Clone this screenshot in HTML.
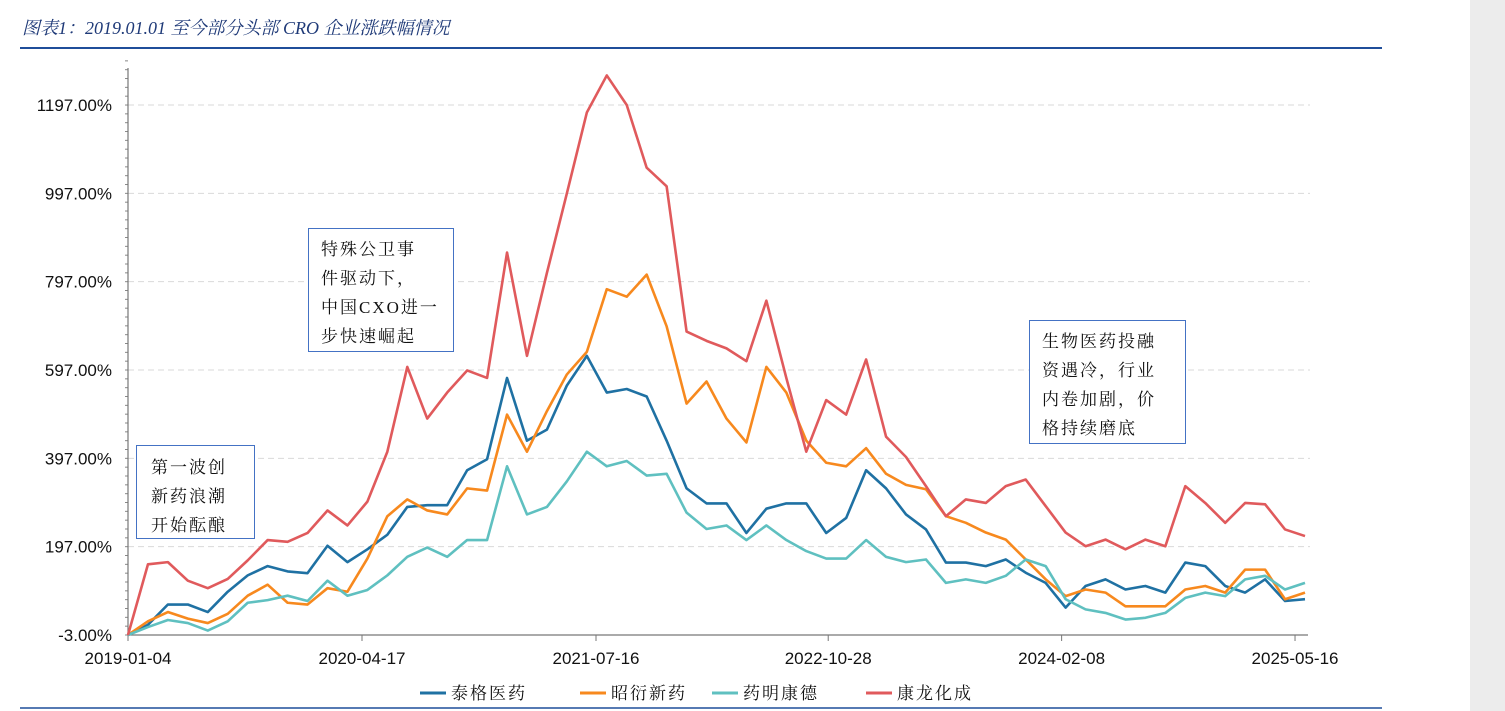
<!DOCTYPE html>
<html><head><meta charset="utf-8">
<style>
body{margin:0;width:1505px;height:711px;background:#fff;overflow:hidden;position:relative;font-family:"Liberation Sans","Noto Sans CJK SC",sans-serif;}
.title{position:absolute;left:22px;top:14px;font-size:18px;font-style:italic;color:#1f3a78;font-family:"Liberation Serif","Noto Serif CJK SC",serif;}
.rule{position:absolute;left:20px;top:47px;width:1362px;height:2px;background:#1f4e9a;}
.strip{position:absolute;left:1470px;top:0;width:35px;height:711px;background:#ececec;}
.box{position:absolute;border:1.5px solid #4472c4;background:#fff;font-family:"Liberation Serif","Noto Serif CJK SC",serif;font-size:17px;line-height:29px;color:#111;box-sizing:border-box;letter-spacing:2px;}
</style></head><body>
<div class="title">图表1：2019.01.01 至今部分头部 CRO 企业涨跌幅情况</div>
<div class="rule"></div>
<div class="strip"></div>
<svg id="chart" width="1505" height="711" style="position:absolute;left:0;top:0"></svg>
<div class="box" style="left:136px;top:445px;width:119px;height:94px;padding:7px 0 0 14px">第一波创<br>新药浪潮<br>开始酝酿</div>
<div class="box" style="left:308px;top:228px;width:146px;height:124px;padding:6px 0 0 12px">特殊公卫事<br>件驱动下，<br>中国CXO进一<br>步快速崛起</div>
<div class="box" style="left:1029px;top:320px;width:157px;height:124px;padding:6px 0 0 12px">生物医药投融<br>资遇冷，行业<br>内卷加剧，价<br>格持续磨底</div>
<script>
const yTicks=[-3,197,397,597,797,997,1197];
const xTickLabels=["2019-01-04","2020-04-17","2021-07-16","2022-10-28","2024-02-08","2025-05-16"];
const xTickIdx=[0,11.73,23.46,35.1,46.8,58.5];
const seriesNames=["泰格医药","昭衍新药","药明康德","康龙化成"];
const taige=[-3,20,66,66,49,95,132,153,141,137,199,162,191,224,287,291,291,370,395,579,437,462,562,629,546,554,537,437,329,295,295,228,283,295,295,228,262,370,329,270,236,161,161,153,168,138,115,59,108,123,100,108,93,161,153,108,93,123,74,78];
const zhaoyan=[-3,28,49,34,24,45,86,111,70,66,103,95,170,266,304,279,270,329,324,496,412,504,587,638,780,763,813,696,521,571,487,433,604,546,437,387,379,420,362,337,327,266,251,229,213,168,123,85,100,93,62,62,62,100,108,93,145,145,78,93];
const wuxi=[-3,15,31,24,7,28,70,76,86,74,120,86,99,132,174,195,174,212,212,379,270,287,345,412,379,391,358,362,274,237,245,212,245,212,187,170,170,212,174,162,168,115,123,115,131,168,153,78,55,47,32,36,47,81,93,85,123,131,100,115];
const kanglong=[-3,157,162,120,103,124,166,212,208,228,279,245,299,412,604,487,546,596,579,863,629,817,997,1180,1264,1197,1055,1013,684,663,646,617,754,579,412,529,496,621,446,400,334,266,304,296,334,349,289,229,198,213,191,213,198,334,296,251,296,293,236,221];
const colors=["#1f71a3","#f7891e","#5fc0c0","#e05a5c"];
const NS="http://www.w3.org/2000/svg";
const svg=document.getElementById("chart");
const X0=128,X1=1305,Y0=635;
const nPts=taige.length;
const x=i=>X0+i*(X1-X0)/(nPts-1);
const y=v=>Y0-(v+3)*88.33/200;
function mk(t,a){const e=document.createElementNS(NS,t);for(const k in a)e.setAttribute(k,a[k]);svg.appendChild(e);return e;}
yTicks.forEach(v=>{
  if(v>-3){const g=mk("line",{x1:X0,x2:1310,y1:y(v),y2:y(v),stroke:"#d9d9d9","stroke-dasharray":"6,4"});
  
  }
  const t=mk("text",{x:112,y:y(v)+6,"text-anchor":"end","font-size":"17",fill:"#111","font-family":"Liberation Sans, sans-serif"});
  t.textContent=v.toFixed(2)+"%";
  
  
});
for(let v=-3;v<=1300;v+=20){const m=mk("line",{x1:X0-3,x2:X0,y1:y(v),y2:y(v),stroke:"#888"});

}
const ya=mk("line",{x1:X0,x2:X0,y1:68,y2:Y0,stroke:"#777","stroke-width":1.2});


const xa=mk("line",{x1:X0,x2:1308,y1:Y0,y2:Y0,stroke:"#777","stroke-width":1.2});


xTickIdx.forEach((ix,k)=>{
  const tk=mk("line",{x1:x(ix),x2:x(ix),y1:Y0,y2:Y0+6,stroke:"#777"});
  
  
  const t=mk("text",{x:x(ix),y:664,"text-anchor":"middle","font-size":"17",fill:"#111","font-family":"Liberation Sans, sans-serif"});
  t.textContent=xTickLabels[k];
  
  
});
[taige,zhaoyan,wuxi,kanglong].forEach((s,k)=>{
  const p=mk("polyline",{points:s.map((v,i)=>x(i)+","+y(v)).join(" "),fill:"none",stroke:colors[k],"stroke-width":2.6,"stroke-linejoin":"round"});
  
  
});
const legX=[420,580,712,866];
seriesNames.forEach((n,k)=>{
  const l=mk("line",{x1:legX[k],x2:legX[k]+26,y1:693,y2:693,stroke:colors[k],"stroke-width":3});
  
  
  const t=mk("text",{x:legX[k]+31,y:699,"font-size":"17","letter-spacing":"2",fill:"#111","font-family":"Liberation Serif, Noto Serif CJK SC, serif"});
  t.textContent=n;
  
  
});
const bl=mk("line",{x1:20,x2:1382,y1:708,y2:708,stroke:"#1f4e9a","stroke-width":1.5});


</script>
</body></html>
